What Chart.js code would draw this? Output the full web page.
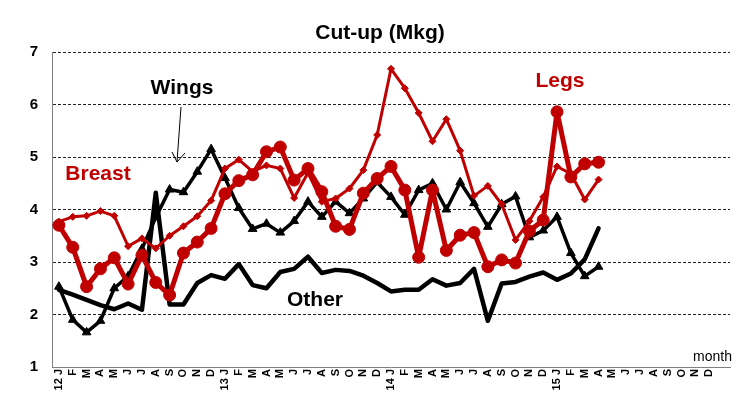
<!DOCTYPE html>
<html>
<head>
<meta charset="utf-8">
<title>Cut-up (Mkg)</title>
<script src="https://cdn.jsdelivr.net/npm/chart.js@4.4.1/dist/chart.umd.min.js"></script>
<style>
  html, body { margin: 0; padding: 0; background: #fff; }
  #wrap { position: relative; width: 751px; height: 413px; }
</style>
</head>
<body>
<div id="wrap"><canvas id="cutup"></canvas></div>
<script>
// -----------------------------------------------------------------
// data (Mkg), monthly from Jan 2012 to Apr 2015
const years = ['12', '13', '14', '15'];
const monthLetters = ['J', 'F', 'M', 'A', 'M', 'J', 'J', 'A', 'S', 'O', 'N', 'D'];

const legs = [3.70, 3.28, 2.53, 2.87, 3.08, 2.58, 3.13, 2.61, 2.37, 3.17, 3.38, 3.64,
  4.30, 4.55, 4.66, 5.10, 5.19, 4.56, 4.78, 4.34, 3.68, 3.62, 4.31, 4.59,
  4.82, 4.37, 3.09, 4.37, 3.22, 3.51, 3.56, 2.91, 3.04, 2.98, 3.59, 3.80,
  5.86, 4.62, 4.87, 4.90];

const breast = [3.77, 3.86, 3.88, 3.97, 3.88, 3.30, 3.45, 3.26, 3.50, 3.68, 3.87, 4.17,
  4.78, 4.95, 4.72, 4.84, 4.78, 4.22, 4.70, 4.15, 4.21, 4.40, 4.75, 5.42,
  6.68, 6.31, 5.84, 5.30, 5.72, 5.12, 4.26, 4.45, 4.10, 3.42, 3.78, 4.24,
  4.82, 4.68, 4.19, 4.57];

const wings = [2.53, 1.90, 1.66, 1.88, 2.50, 2.73, 3.25, 3.85, 4.38, 4.33, 4.72, 5.15,
  4.60, 4.03, 3.63, 3.73, 3.56, 3.78, 4.15, 3.86, 4.15, 3.93, 4.21, 4.52,
  4.24, 3.90, 4.37, 4.50, 4.00, 4.52, 4.12, 3.67, 4.10, 4.25, 3.47, 3.60,
  3.86, 3.17, 2.73, 2.91];

const other = [2.47, 2.38, 2.28, 2.18, 2.10, 2.21, 2.09, 4.32, 2.19, 2.19, 2.60, 2.75,
  2.68, 2.96, 2.56, 2.50, 2.81, 2.87, 3.10, 2.79, 2.85, 2.83, 2.74, 2.60,
  2.44, 2.47, 2.47, 2.67, 2.55, 2.60, 2.87, 1.88, 2.59, 2.62, 2.72, 2.80,
  2.66, 2.78, 3.05, 3.64];

const yTicks = [1, 2, 3, 4, 5, 6, 7];

// -----------------------------------------------------------------
// month labels: "12 J", F, M ... one empty slot at the end of the axis
const monthLabels = [];
years.forEach((yr) => {
  monthLetters.forEach((m, i) => {
    monthLabels.push(i === 0 ? yr + ' J' : m);
  });
});
monthLabels.push('');

const FONT = '"Liberation Sans", Arial, sans-serif';
const RED = '#c00000';

// -----------------------------------------------------------------
// title, series names, arrow, "month"
const notesPlugin = {
  id: 'cutupNotes',
  afterDraw(chart) {
    const ctx = chart.ctx;
    ctx.save();
    ctx.textAlign = 'center';
    ctx.textBaseline = 'middle';

    ctx.font = 'bold 21px ' + FONT;
    ctx.fillStyle = '#000';
    ctx.fillText('Cut-up (Mkg)', 380, 33);
    ctx.fillText('Wings', 182, 88);
    ctx.fillText('Other', 315, 300);

    ctx.fillStyle = RED;
    ctx.fillText('Breast', 98, 174);
    ctx.fillText('Legs', 560, 81);

    ctx.font = '14px ' + FONT;
    ctx.fillStyle = '#000';
    ctx.textAlign = 'right';
    ctx.fillText('month', 732, 357);

    // arrow pointing at the wings line
    ctx.strokeStyle = '#000';
    ctx.lineWidth = 1;
    ctx.beginPath();
    ctx.moveTo(181, 107);
    ctx.lineTo(177, 162);
    ctx.moveTo(172, 152);
    ctx.lineTo(177, 162);
    ctx.lineTo(185, 153);
    ctx.stroke();
    ctx.restore();
  }
};

const chart = new Chart(document.getElementById('cutup'), {
  type: 'line',
  data: {
    labels: monthLabels,
    datasets: [
      {
        label: 'Legs',
        data: legs,
        borderColor: RED,
        backgroundColor: RED,
        borderWidth: 5,
        pointStyle: 'circle',
        pointRadius: 6,
        pointBorderWidth: 1,
        borderJoinStyle: 'round',
        order: 0,
      },
      {
        label: 'Breast',
        data: breast,
        borderColor: RED,
        backgroundColor: RED,
        borderWidth: 3,
        pointStyle: 'rectRot',
        pointRadius: 3.5,
        pointBorderWidth: 1,
        borderJoinStyle: 'round',
        order: 1,
      },
      {
        label: 'Wings',
        data: wings,
        borderColor: '#000',
        backgroundColor: '#000',
        borderWidth: 3.5,
        pointStyle: 'triangle',
        pointRadius: 5,
        pointBorderWidth: 1,
        borderJoinStyle: 'round',
        order: 2,
      },
      {
        label: 'Other',
        data: other,
        borderColor: '#000',
        borderWidth: 4.5,
        pointRadius: 0,
        borderJoinStyle: 'round',
        borderCapStyle: 'round',
        order: 3,
      },
    ],
  },
  options: {
    responsive: true,
    maintainAspectRatio: false,
    animation: false,
    devicePixelRatio: 1,
    layout: { padding: { top: 52, right: 21, bottom: 0, left: 0 } },
    plugins: {
      legend: { display: false },
      title: { display: false },
      tooltip: { enabled: false },
    },
    scales: {
      x: {
        type: 'category',
        offset: true,
        grid: { display: false, drawTicks: false },
        border: { display: true, color: '#808080', width: 1 },
        ticks: {
          autoSkip: false,
          maxRotation: 90,
          minRotation: 90,
          padding: 2,
          color: '#000',
          font: { family: FONT, size: 11, weight: 'bold' },
        },
        afterFit(scale) { scale.height = 46; },
      },
      y: {
        min: yTicks[0],
        max: yTicks[yTicks.length - 1],
        afterBuildTicks(scale) {
          scale.ticks = yTicks.map((v) => ({ value: v }));
        },
        grid: {
          drawTicks: false,
          lineWidth: 1,
          color: (c) => (c.tick && c.tick.value === yTicks[0] ? 'rgba(0,0,0,0)' : '#222'),
        },
        border: { display: true, color: '#808080', width: 1, dash: [3, 2] },
        ticks: {
          padding: 14,
          color: '#000',
          font: { family: FONT, size: 15, weight: 'bold' },
        },
        afterFit(scale) { scale.width = 52; },
      },
    },
  },
  plugins: [notesPlugin],
});
</script>
</body>
</html>
